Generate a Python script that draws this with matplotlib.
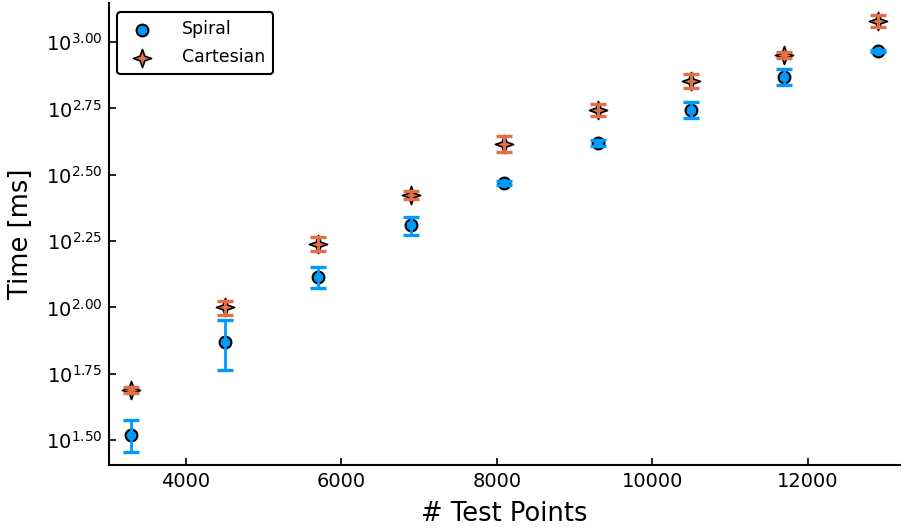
import matplotlib

matplotlib.use("Agg")
import matplotlib.pyplot as plt  # noqa: E402
import numpy as np  # noqa: E402
from matplotlib.path import Path  # noqa: E402
from matplotlib.ticker import FixedLocator, FuncFormatter  # noqa: E402

SPIRAL_COLOR = "#009AFA"
CARTESIAN_COLOR = "#E26F46"

test_points = [3300, 4500, 5700, 6900, 8100, 9300, 10500, 11700, 12900]

spiral_ms = [33.0, 74.0, 130, 204, 294, 416, 555, 738, 925]
spiral_err = [4.5, 16, 12, 16, 5, 11, 38, 51, 10]

cartesian_ms = [48.8, 100, 173, 265, 413, 555, 713, 893, 1200]
cartesian_err = [1.3, 6, 10.5, 9, 29, 29, 44, 23, 63]

ytick_exps = [1.50, 1.75, 2.00, 2.25, 2.50, 2.75, 3.00]

# four-pointed star, like the Plots.jl :star4 marker
r = 0.26
star4 = Path(
    [(0, 1), (r, r), (1, 0), (r, -r), (0, -1), (-r, -r), (-1, 0), (-r, r), (0, 1)],
    [Path.MOVETO] + [Path.LINETO] * 7 + [Path.CLOSEPOLY],
)

fig = plt.figure(figsize=(9.02, 5.28), dpi=100)
ax = fig.add_axes([0.1208, 0.1193, 0.877, 0.875])

ax.scatter(test_points, spiral_ms, s=72, marker="o", color=SPIRAL_COLOR,
           edgecolor="black", linewidth=1.5, zorder=2, label="Spiral")
ax.errorbar(test_points, spiral_ms, yerr=spiral_err, fmt="none",
            ecolor=SPIRAL_COLOR, elinewidth=2.0, capsize=5.5, capthick=2.4,
            zorder=3)

ax.scatter(test_points, cartesian_ms, s=170, marker=star4, color=CARTESIAN_COLOR,
           edgecolor="black", linewidth=1.2, zorder=4, label="Cartesian")
ax.errorbar(test_points, cartesian_ms, yerr=cartesian_err, fmt="none",
            ecolor=CARTESIAN_COLOR, elinewidth=2.0, capsize=5.5, capthick=2.4,
            zorder=5)

ax.set_yscale("log")
ax.set_xlim(3012, 13188)
ax.set_ylim(10 ** 1.406, 10 ** 3.147)

ax.yaxis.set_major_locator(FixedLocator([10 ** e for e in ytick_exps]))
ax.yaxis.set_major_formatter(
    FuncFormatter(lambda v, pos: r"$10^{%.2f}$" % np.log10(v)))
ax.yaxis.set_minor_locator(FixedLocator([100, 1000]))
ax.set_xticks([4000, 6000, 8000, 10000, 12000])

ax.tick_params(axis="both", which="major", direction="in", length=5,
               width=1.2, labelsize=14, colors="black", pad=5)
ax.tick_params(axis="y", which="minor", direction="out", length=3, width=1.2)

for side in ("top", "right"):
    ax.spines[side].set_visible(False)
for side in ("left", "bottom"):
    ax.spines[side].set_linewidth(1.5)

ax.set_xlabel("# Test Points", fontsize=18.5, labelpad=7)
ax.set_ylabel("Time [ms]", fontsize=18.5, labelpad=8)

leg = ax.legend(loc="upper left", fontsize=12.5, frameon=True, fancybox=True,
                borderpad=0.45, handletextpad=1.3, labelspacing=0.6,
                bbox_to_anchor=(0.0105, 0.98), borderaxespad=0)
leg.get_frame().set_edgecolor("black")
leg.get_frame().set_linewidth(1.5)
leg.get_frame().set_alpha(1)

fig.savefig("out.png", dpi=100)
